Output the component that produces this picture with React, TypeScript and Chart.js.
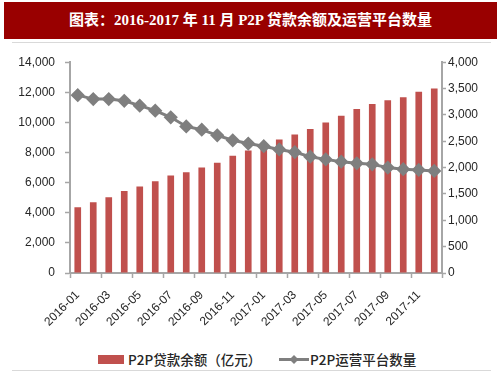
import React, { useEffect, useRef } from "react";
import { Chart, registerables } from "chart.js";

Chart.register(...registerables);

const months = [
  "2016-01", "2016-02", "2016-03", "2016-04", "2016-05", "2016-06",
  "2016-07", "2016-08", "2016-09", "2016-10", "2016-11", "2016-12",
  "2017-01", "2017-02", "2017-03", "2017-04", "2017-05", "2017-06",
  "2017-07", "2017-08", "2017-09", "2017-10", "2017-11", "2017-12",
];
const loanBalance = [
  4370, 4700, 5030, 5440, 5750, 6100, 6470, 6690, 7000, 7320, 7780, 8130,
  8500, 8860, 9190, 9560, 10000, 10450, 10900, 11220, 11480, 11680, 12030, 12250,
];
const platformCount = [
  3375, 3300, 3300, 3268, 3175, 3081, 2955, 2781, 2719, 2612, 2518, 2456,
  2406, 2344, 2293, 2206, 2156, 2112, 2081, 2062, 2000, 1969, 1956, 1937,
];
const titleText = "图表：2016-2017 年 11 月 P2P 贷款余额及运营平台数量";
const barLabel = "P2P贷款余额（亿元）";
const lineLabel = "P2P运营平台数量";

const BAR_COLOR = "#c0504d";
const LINE_COLOR = "#7f7f7f";
const AXIS_COLOR = "#a6a6a6";
const TEXT_COLOR = "#262626";

export default function App() {
  const canvasRef = useRef<HTMLCanvasElement | null>(null);

  useEffect(() => {
    document.body.style.margin = "0";
    const canvas = canvasRef.current;
    if (!canvas) return;
    const chart = new Chart(canvas, {
      type: "bar",
      data: {
        labels: months,
        datasets: [
          {
            type: "line",
            label: lineLabel,
            data: platformCount,
            yAxisID: "y1",
            borderColor: LINE_COLOR,
            backgroundColor: LINE_COLOR,
            borderWidth: 3,
            pointStyle: "rectRot",
            pointRadius: 5,
            pointBackgroundColor: LINE_COLOR,
            pointBorderColor: LINE_COLOR,
            tension: 0,
            order: 0,
          },
          {
            type: "bar",
            label: barLabel,
            data: loanBalance,
            yAxisID: "y",
            backgroundColor: BAR_COLOR,
            borderWidth: 0,
            barPercentage: 0.43,
            categoryPercentage: 1,
            order: 1,
          },
        ],
      },
      options: {
        animation: false,
        responsive: false,
        maintainAspectRatio: false,
        layout: { padding: { top: 15, left: 0, right: 0, bottom: 0 } },
        plugins: {
          legend: { display: false },
          tooltip: { enabled: false },
          title: { display: false },
        },
        scales: {
          x: {
            offset: true,
            grid: {
              offset: true,
              drawOnChartArea: false,
              drawTicks: true,
              tickLength: 5,
              tickWidth: 1.5,
              tickColor: (ctx: any) =>
                ctx.index === undefined || ctx.index % 2 === 0 ? AXIS_COLOR : "rgba(0,0,0,0)",
            },
            border: { color: AXIS_COLOR, width: 2 },
            ticks: {
              autoSkip: false,
              maxRotation: 45,
              minRotation: 45,
              padding: 10,
              color: TEXT_COLOR,
              font: { family: "Liberation Sans", size: 12 },
              callback: (_v: any, i: number) => (i % 2 === 0 ? months[i] : ""),
            },
            afterFit: (scale: any) => {
              scale.height = 72;
            },
          },
          y: {
            position: "left",
            min: 0,
            max: 14000,
            grid: {
              drawOnChartArea: false,
              drawTicks: true,
              tickLength: 5,
              tickColor: AXIS_COLOR,
              tickWidth: 1.5,
            },
            border: { color: AXIS_COLOR, width: 2 },
            ticks: {
              stepSize: 2000,
              padding: 10,
              color: TEXT_COLOR,
              font: { family: "Liberation Sans", size: 12 },
              callback: (v: any) => Number(v).toLocaleString("en-US"),
            },
            afterFit: (scale: any) => {
              scale.width = 70;
            },
          },
          y1: {
            position: "right",
            min: 0,
            max: 4000,
            grid: {
              drawOnChartArea: false,
              drawTicks: true,
              tickLength: 4,
              tickColor: AXIS_COLOR,
              tickWidth: 1.5,
            },
            border: { color: AXIS_COLOR, width: 2 },
            ticks: {
              stepSize: 500,
              padding: 2,
              color: TEXT_COLOR,
              font: { family: "Liberation Sans", size: 12 },
              callback: (v: any) => Number(v).toLocaleString("en-US"),
            },
            afterFit: (scale: any) => {
              scale.width = 61;
            },
          },
        },
      },
    });
    return () => chart.destroy();
  }, []);

  return (
    <div style={{ position: "absolute", left: 0, top: 0, width: 503, height: 378, background: "#fff", overflow: "hidden" }}>
      <div
        style={{
          position: "absolute",
          left: 4,
          top: 2,
          width: 493,
          height: 37,
          background: "#990000",
          color: "#fff",
          fontFamily: '"Liberation Serif", "Noto Sans CJK SC", serif',
          fontWeight: "bold",
          fontSize: 15,
          lineHeight: "37px",
          textAlign: "center",
          whiteSpace: "pre",
        }}
      >
        {titleText}
      </div>
      <div style={{ position: "absolute", left: 12, top: 42, width: 479, height: 1, background: "#d9d9d9" }} />
      <canvas
        ref={canvasRef}
        width={503}
        height={300}
        style={{ position: "absolute", left: 0, top: 45, width: 503, height: 300 }}
      />
      <div
        style={{
          position: "absolute",
          left: 0,
          top: 349,
          width: 503,
          height: 20,
          fontFamily: '"Noto Sans CJK SC", "Noto Sans", sans-serif',
          fontSize: 13.5,
          fontWeight: 500,
          color: TEXT_COLOR,
        }}
      >
        <div style={{ position: "absolute", left: 98, top: 6, width: 26, height: 9, background: BAR_COLOR }} />
        <div style={{ position: "absolute", left: 128, top: 0, lineHeight: "20px", whiteSpace: "pre" }}>{barLabel}</div>
        <svg style={{ position: "absolute", left: 279, top: 0 }} width={30} height={20}>
          <line x1={0} y1={10.5} x2={30} y2={10.5} stroke={LINE_COLOR} strokeWidth={3} />
          <polygon points="15,6 19.5,10.5 15,15 10.5,10.5" fill={LINE_COLOR} />
        </svg>
        <div style={{ position: "absolute", left: 310, top: 0, lineHeight: "20px", whiteSpace: "pre" }}>{lineLabel}</div>
      </div>
      <div style={{ position: "absolute", left: 12, top: 370, width: 479, height: 1, background: "#d9d9d9" }} />
    </div>
  );
}
